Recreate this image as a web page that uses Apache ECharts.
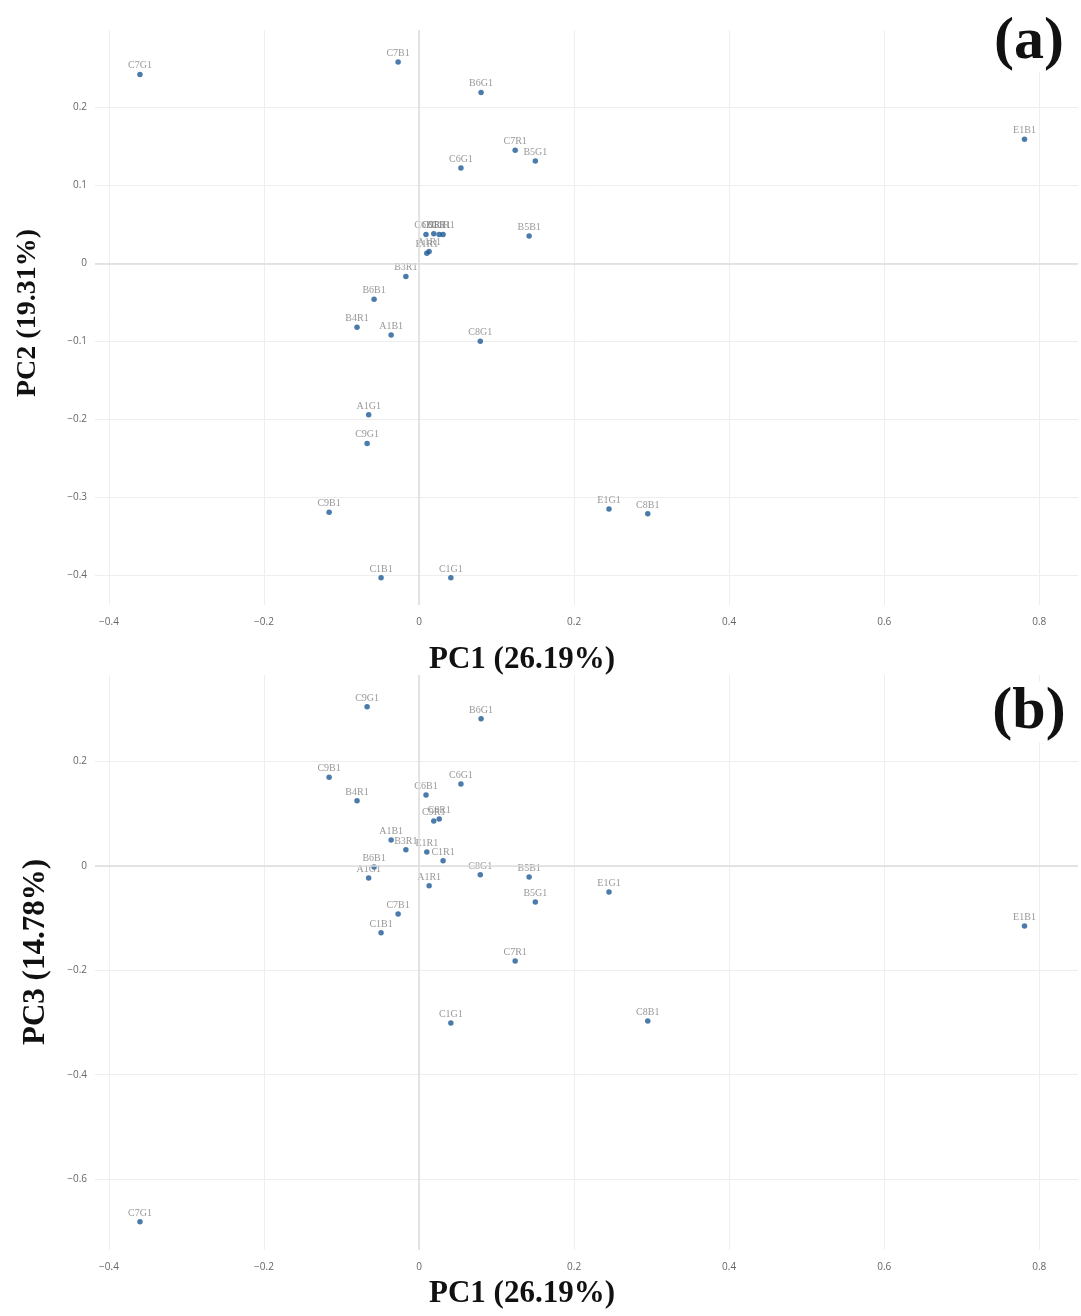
<!DOCTYPE html>
<html><head><meta charset="utf-8">
<script src="https://cdn.jsdelivr.net/npm/echarts@6/dist/echarts.min.js"></script>
<style>html,body{margin:0;padding:0;background:#fff}#c{width:1081px;height:1316px}</style>
</head><body><div id="c"></div>
<script>
const names = ["C7G1","C7B1","B6G1","E1B1","C7R1","B5G1","C6G1","B5B1","C6B1","C9R1","C8R1","C1R1","E1R1","A1R1","B3R1","B6B1","B4R1","A1B1","C8G1","A1G1","C9G1","C9B1","E1G1","C8B1","C1B1","C1G1"];
const pc1 = [-0.360,-0.027,0.080,0.781,0.124,0.150,0.054,0.142,0.009,0.019,0.026,0.031,0.010,0.013,-0.017,-0.058,-0.080,-0.036,0.079,-0.065,-0.067,-0.116,0.245,0.295,-0.049,0.041];
const pc2 = [0.242,0.258,0.219,0.159,0.145,0.131,0.122,0.035,0.037,0.038,0.037,0.037,0.013,0.015,-0.017,-0.046,-0.082,-0.092,-0.100,-0.194,-0.231,-0.319,-0.315,-0.321,-0.403,-0.403];
const pc3 = [-0.682,-0.092,0.282,-0.115,-0.182,-0.069,0.157,-0.021,0.136,0.086,0.090,0.010,0.027,-0.038,0.031,-0.002,0.125,0.050,-0.017,-0.023,0.305,0.170,-0.050,-0.297,-0.128,-0.301];
const xTitle = "PC1 (26.19%)", yTitleA = "PC2 (19.31%)", yTitleB = "PC3 (14.78%)";

function fmt(step){
  return function(v){
    const k = Math.round(v/step);
    if (Math.abs(v - k*step) > 1e-6) return '';
    const r = Math.round(k*step*10)/10;
    if (r === 0) return '0';
    return (r < 0 ? '\u2212' : '') + Math.abs(r).toString();
  };
}
const tickLbl = {color:'#666', fontSize:10, fontFamily:'Open Sans'};
const split = {showMinLine:false, showMaxLine:false, lineStyle:{color:'#eeeeee', width:1}};
function xAx(gi){
  return {type:'value', gridIndex:gi, min:-0.418, max:0.85, splitNumber:6,
    axisLine:{show:false}, axisTick:{show:false}, splitLine:split,
    axisLabel:Object.assign({margin:12, formatter:fmt(0.2), showMinLabel:false, showMaxLabel:false}, tickLbl)};
}
function yAx(gi,min,max,sn,step){
  return {type:'value', gridIndex:gi, min:min, max:max, splitNumber:sn,
    axisLine:{show:false}, axisTick:{show:false}, splitLine:split,
    axisLabel:Object.assign({margin:8, formatter:fmt(step), showMinLabel:false, showMaxLabel:false}, tickLbl)};
}
function ser(gi, ys){
  return {type:'scatter', xAxisIndex:gi, yAxisIndex:gi, symbolSize:5.5,
    itemStyle:{color:'#1d5a96'},
    data: pc1.map((x,i)=>({value:[x, ys[i]], name:names[i]})),
    label:{show:true, position:'top', distance:1, formatter:'{b}', color:'#808080', fontSize:10, fontFamily:'Liberation Serif'},
    markLine:{silent:true, symbol:'none', label:{show:false}, animation:false,
      lineStyle:{color:'#dddddd', type:'solid', width:1.5},
      data:[{xAxis:0},{yAxis:0}]},
    animation:false};
}
const titleFont = {fontFamily:'Liberation Serif', fontWeight:'bold', fill:'#111'};
const chart = echarts.init(document.getElementById('c'), null, {renderer:'canvas'});
chart.setOption({
  animation:false,
  grid:[{left:95, width:983, top:30, height:575},{left:95, width:983, top:675, height:575}],
  xAxis:[xAx(0), xAx(1)],
  yAxis:[yAx(0,-0.438,0.299,7,0.1), yAx(1,-0.736,0.366,5,0.2)],
  series:[ser(0,pc2), ser(1,pc3)],
  graphic:[
    {type:'text', style:Object.assign({text:xTitle, fontSize:31, x:522, y:660, textAlign:'center', textVerticalAlign:'middle'}, titleFont)},
    {type:'text', style:Object.assign({text:xTitle, fontSize:31, x:522, y:1294, textAlign:'center', textVerticalAlign:'middle'}, titleFont)},
    {type:'text', x:28, y:313, rotation:Math.PI/2, style:Object.assign({text:yTitleA, fontSize:28, textAlign:'center', textVerticalAlign:'middle'}, titleFont)},
    {type:'text', x:36, y:952, rotation:Math.PI/2, style:Object.assign({text:yTitleB, fontSize:31, textAlign:'center', textVerticalAlign:'middle'}, titleFont)},
    {type:'text', z:100, style:Object.assign({text:'(a)', fontSize:60, x:1029, y:42, textAlign:'center', textVerticalAlign:'middle', backgroundColor:'#fff'}, titleFont)},
    {type:'text', z:100, style:Object.assign({text:'(b)', fontSize:60, x:1029, y:712, textAlign:'center', textVerticalAlign:'middle', backgroundColor:'#fff'}, titleFont)}
  ]
});
</script></body></html>
